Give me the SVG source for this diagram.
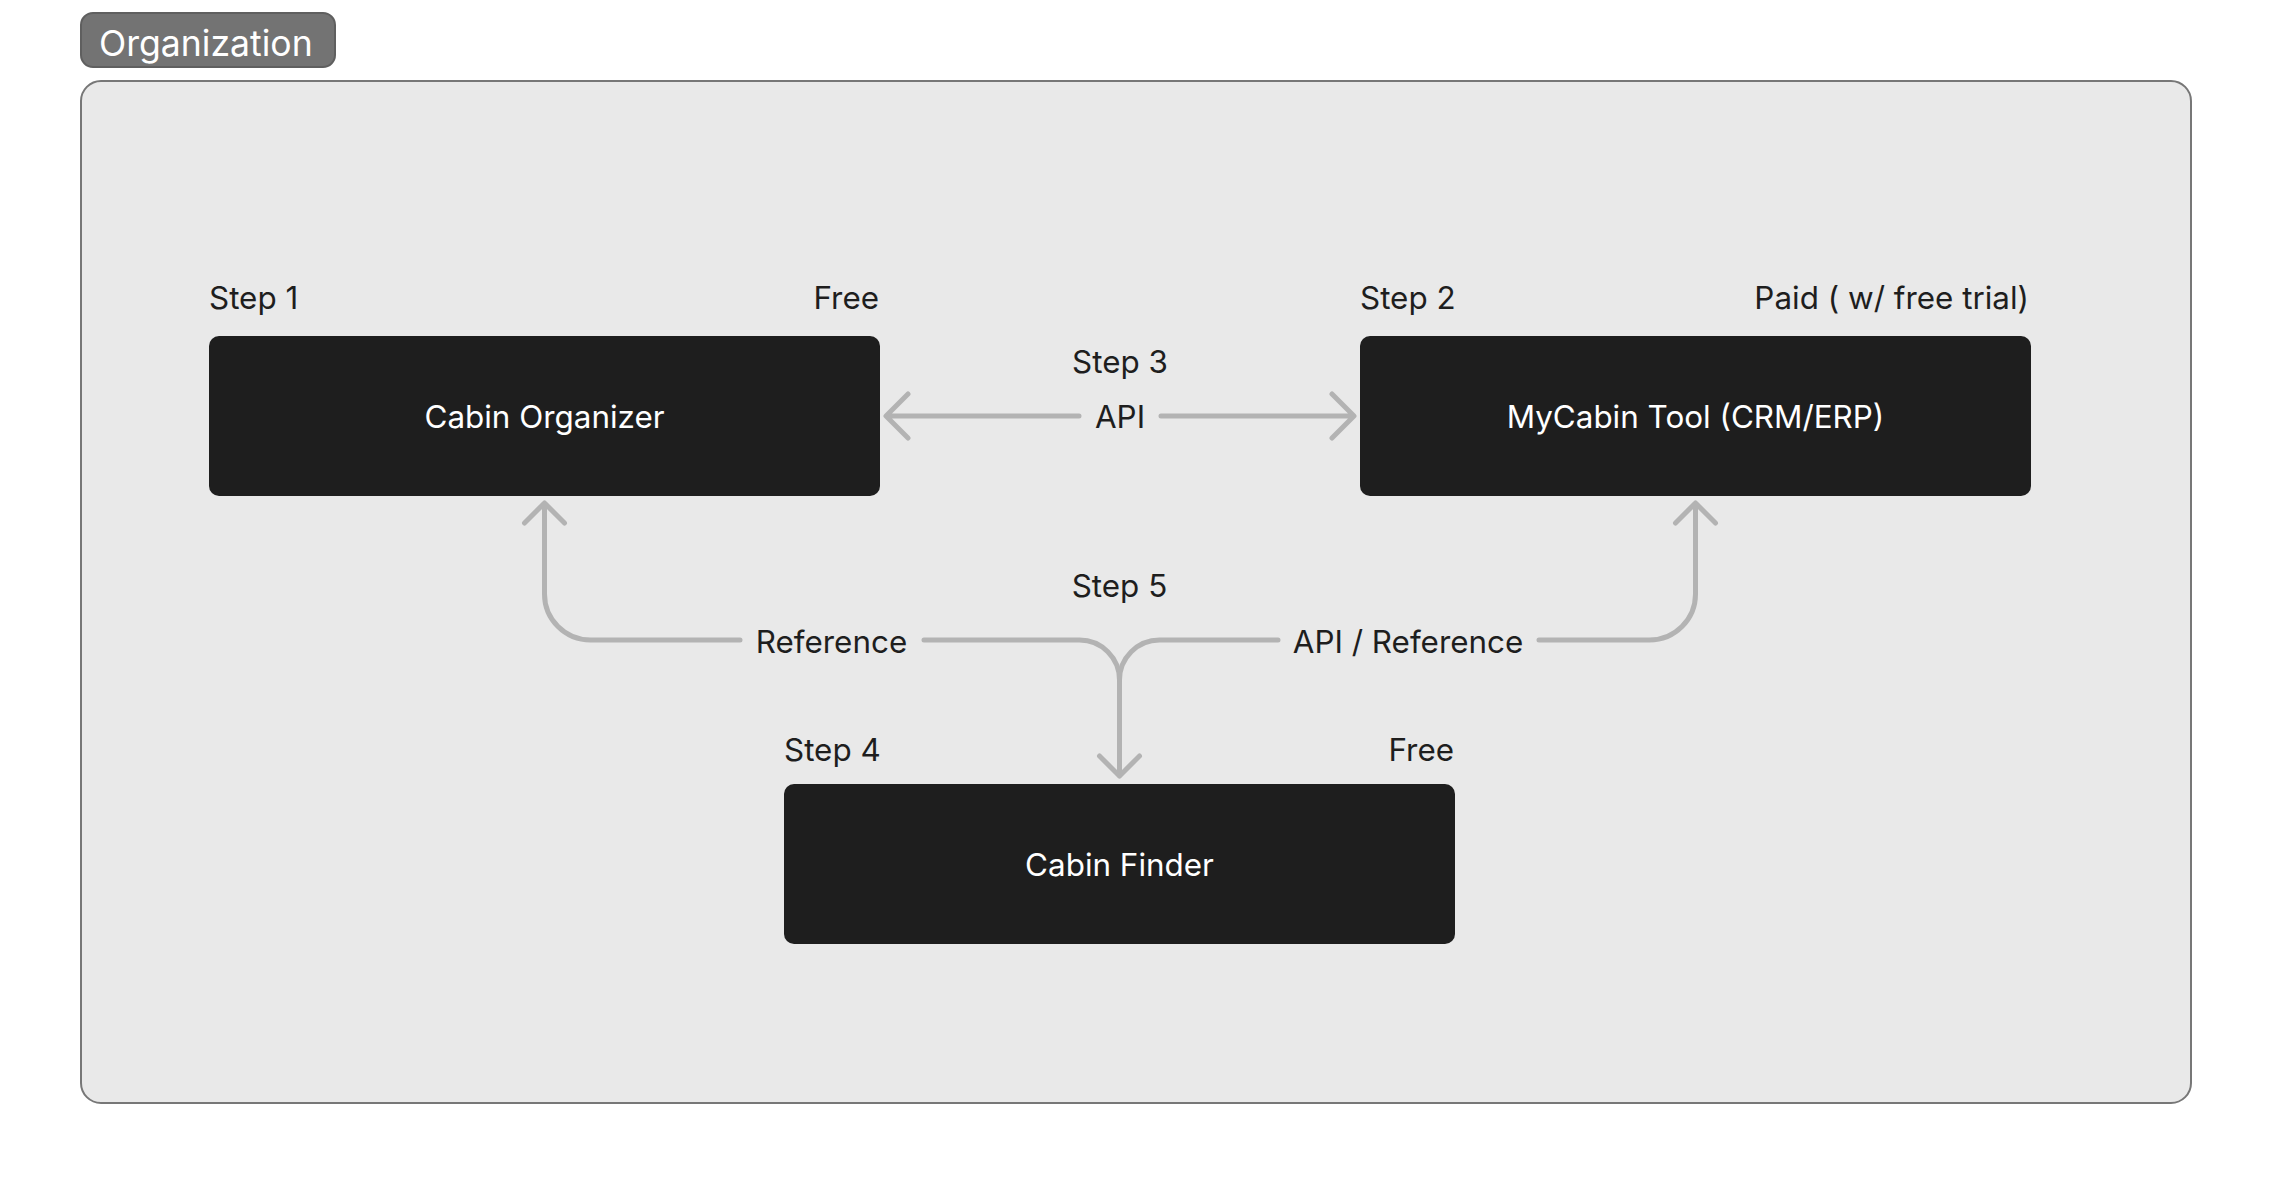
<svg xmlns="http://www.w3.org/2000/svg" width="2272" height="1184" viewBox="0 0 2272 1184">
  <defs>
    <style>
      .lbl { font-family: Inter, "Liberation Sans", sans-serif; font-size: 31.4px; fill: #1e1e1e; }
      .node rect { fill: #1e1e1e; }
      .node text { font-family: Inter, "Liberation Sans", sans-serif; font-size: 31.4px; fill: #ffffff; text-anchor: middle; }
      .conn { fill: none; stroke: #b3b3b3; stroke-width: 5; stroke-linecap: round; stroke-linejoin: round; }
    </style>
  </defs>
  <rect width="2272" height="1184" fill="#ffffff"/>

  <g id="organization">
    <rect x="81" y="81" width="2110" height="1022" rx="20" fill="#e9e9e9" stroke="#777777" stroke-width="2"/>
    <rect x="81" y="13" width="254" height="54" rx="12" fill="#737373" stroke="#5f5f5f" stroke-width="2"/>
    <text x="99" y="56" font-family="Inter, 'Liberation Sans', sans-serif" font-size="35.6" fill="#ffffff">Organization</text>
  </g>

  <g id="connectors">
    <!-- Step 3 API bidirectional -->
    <path class="conn" d="M1079 416 H888 M908 394 L886 416 L908 438"/>
    <path class="conn" d="M1161 416 H1352 M1332 394 L1354 416 L1332 438"/>
    <!-- Step 5 references -->
    <path class="conn" d="M740 640 H590.5 A46 46 0 0 1 544.5 594 V503 M524.5 523 L544.5 503 L564.5 523"/>
    <path class="conn" d="M924 640 H1079.5 A40 40 0 0 1 1119.5 680 V776 M1099.5 756 L1119.5 776 L1139.5 756"/>
    <path class="conn" d="M1278 640 H1159.5 A40 40 0 0 0 1119.5 680"/>
    <path class="conn" d="M1539 640 H1649.5 A46 46 0 0 0 1695.5 594 V503 M1675.5 523 L1695.5 503 L1715.5 523"/>
    <text class="lbl" x="1120" y="373" text-anchor="middle">Step 3</text>
    <text class="lbl" x="1120" y="428" text-anchor="middle">API</text>
    <text class="lbl" x="1119.5" y="597" text-anchor="middle">Step 5</text>
    <text class="lbl" x="831.5" y="653" text-anchor="middle">Reference</text>
    <text class="lbl" x="1408" y="653" text-anchor="middle">API / Reference</text>
  </g>

  <g id="cabin-organizer" class="node">
    <rect x="209" y="336" width="671" height="160" rx="10"/>
    <text x="544.5" y="428">Cabin Organizer</text>
    <text class="lbl" x="209" y="309" style="fill:#1e1e1e;text-anchor:start">Step 1</text>
    <text class="lbl" x="879" y="309" style="fill:#1e1e1e;text-anchor:end">Free</text>
  </g>

  <g id="mycabin-tool" class="node">
    <rect x="1360" y="336" width="671" height="160" rx="10"/>
    <text x="1695.5" y="428">MyCabin Tool (CRM/ERP)</text>
    <text class="lbl" x="1360" y="309" style="fill:#1e1e1e;text-anchor:start">Step 2</text>
    <text class="lbl" x="2029" y="309" style="fill:#1e1e1e;text-anchor:end">Paid ( w/ free trial)</text>
  </g>

  <g id="cabin-finder" class="node">
    <rect x="784" y="784" width="671" height="160" rx="10"/>
    <text x="1119.5" y="876">Cabin Finder</text>
    <text class="lbl" x="784" y="761" style="fill:#1e1e1e;text-anchor:start">Step 4</text>
    <text class="lbl" x="1454" y="761" style="fill:#1e1e1e;text-anchor:end">Free</text>
  </g>
</svg>
